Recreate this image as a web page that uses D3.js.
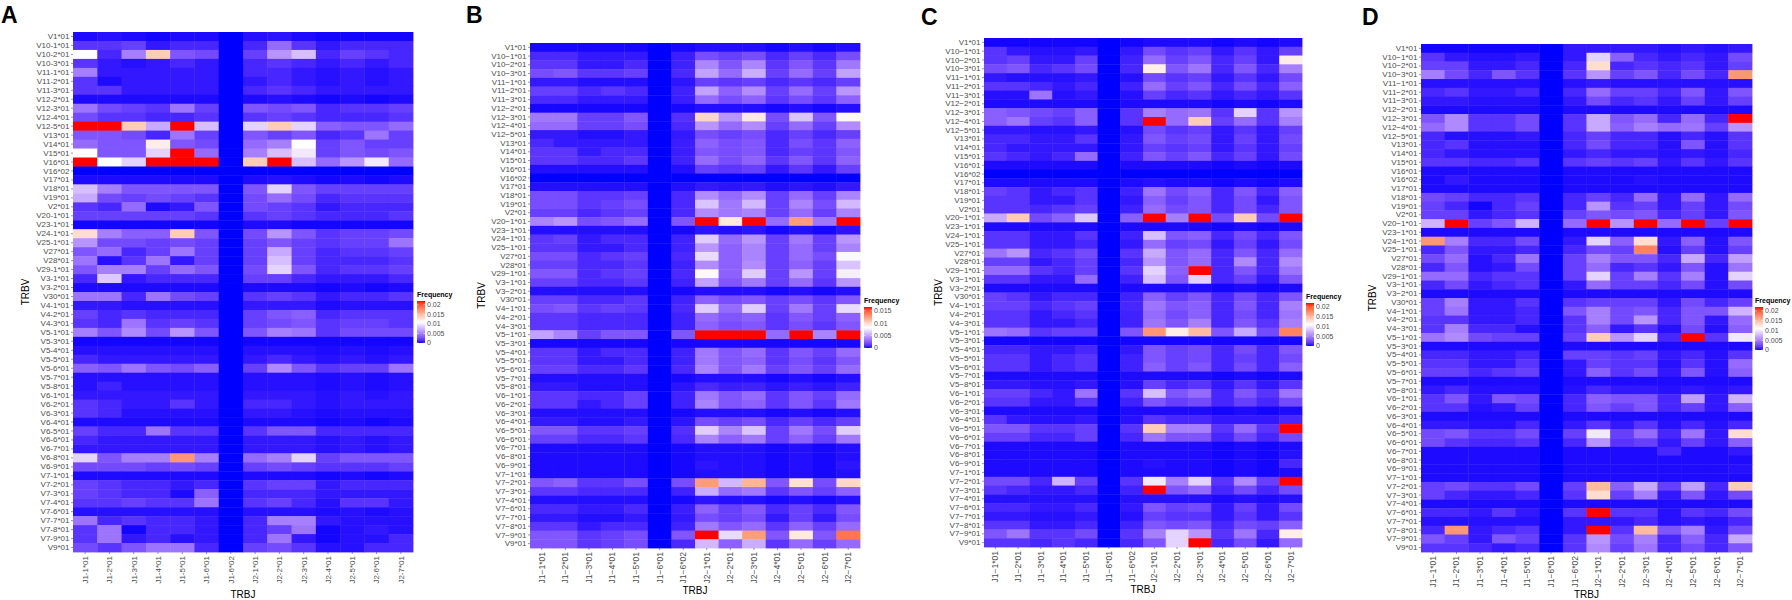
<!DOCTYPE html>
<html>
<head>
<meta charset="utf-8">
<script src="https://d3js.org/d3.v7.min.js"></script>
<style>
  body { margin: 0; background: #fff; }
  svg text { font-family: "Liberation Sans", Arial, sans-serif; }
</style>
</head>
<body>
<svg id="chart" width="1792" height="600"></svg>
<script>
// TRBV genes (rows) and TRBJ genes (columns), same in all four panels
const trbv = ['V1*01','V10-1*01','V10-2*01','V10-3*01','V11-1*01','V11-2*01','V11-3*01','V12-2*01',
  'V12-3*01','V12-4*01','V12-5*01','V13*01','V14*01','V15*01','V16*01','V16*02','V17*01','V18*01',
  'V19*01','V2*01','V20-1*01','V23-1*01','V24-1*01','V25-1*01','V27*01','V28*01','V29-1*01','V3-1*01',
  'V3-2*01','V30*01','V4-1*01','V4-2*01','V4-3*01','V5-1*01','V5-3*01','V5-4*01','V5-5*01','V5-6*01',
  'V5-7*01','V5-8*01','V6-1*01','V6-2*01','V6-3*01','V6-4*01','V6-5*01','V6-6*01','V6-7*01','V6-8*01',
  'V6-9*01','V7-1*01','V7-2*01','V7-3*01','V7-4*01','V7-6*01','V7-7*01','V7-8*01','V7-9*01','V9*01'];
const trbj = ['J1-1*01','J1-2*01','J1-3*01','J1-4*01','J1-5*01','J1-6*01','J1-6*02',
  'J2-1*01','J2-2*01','J2-3*01','J2-4*01','J2-5*01','J2-6*01','J2-7*01'];

// frequencies in per mille (1 = 0.001), one row per TRBV, columns in trbj order
const freqA = [
[0.2,0.3,0.2,0.1,0.2,0.2,0,0.3,0.4,0.2,0.1,0.1,0.1,0.1],
[1.5,1.5,2,0.5,1,1,0,1,4,1.5,0.5,1,1,1],
[11,1,5,14,3,2.5,0,2,6,8,1,2,1.5,1],
[1.5,0.5,0.3,0.5,1,0.5,0,1,1.5,1,0.5,1,0.5,1],
[5,0.5,0.5,0.5,0.5,0.5,0,1,1,0.5,0.3,0.5,0.3,0.5],
[1.5,0.2,0.5,0.5,0.5,0.5,0,0.5,1,0.5,0.3,0.5,0.3,0.5],
[1.5,1.5,0.5,0.5,0.5,0.5,0,1,1.5,1,0.5,0.5,0.5,0.5],
[0.2,0.2,0.2,0.2,0.2,0.2,0,0.2,0.3,0.2,0.1,0.2,0.1,0.2],
[4.5,2.5,2,1.5,4.5,2,0,3,2.5,3,1,1.5,1.5,2],
[2.5,1.5,1.5,1,1,1.5,0,1.5,2,1.5,1,1,1,1.5],
[22,22,14,7,22,8,0,9,14,9,3.5,3,3,4],
[3,3,2.5,1,4.5,2,0,3,2,3,1,1.5,4.5,2],
[4,3,3,12,3,2.5,0,4,5,11,2,3,2,2],
[11,3,3,9,22,4,0,5,8,10,2,3,2.5,3],
[22,11,9,22,22,22,0,14,22,8,4,6,10,4],
[0,0,0,0,0,0,0,0,0,0,0,0,0,0],
[0.2,0.2,0.2,0.2,0.2,0.2,0,0.2,0.3,0.2,0.1,0.2,0.1,0.2],
[8,5,3,3,3,3,0,3,9,3,2,2,2,2],
[7,2.5,2,2.5,2,1.5,0,2.5,4,2.5,1,1.5,1.5,1.5],
[1.5,1,4,0.2,0.5,3,0,2.5,2,1.5,0.5,1,1,1],
[2,2,2,2,2,1.5,0,1.5,2,1.5,1,1,1,1.5],
[0.1,0.1,0.1,0.1,0.1,0.1,0,0.2,0.2,0.1,0.1,0.1,0.1,0.1],
[13,5,3.5,3.5,14,3,0,2.5,6,3,1.5,2,2,2.5],
[6,2.5,2.5,2,2.5,2,0,2,3,2,1.5,2,2,4.5],
[3,4,1,2,4.5,2,0,2,7,2,1,1.5,1.5,2],
[4.5,0.3,1.5,4.5,0.5,2,0,2,8,2,1,1,1,1.5],
[3,5,5,2,4,3,0,2.5,9,3,1,1.5,1.5,2],
[1,8.5,0.5,1,1,1,0,2,2,1,0.5,0.5,0.5,1],
[0.2,0.2,0.2,0.2,0.2,0.2,0,0.2,0.2,0.2,0.1,0.2,0.1,0.2],
[4.5,4.5,1,4.5,2.5,2,0,1.5,2,1.5,0.5,1,1,1.5],
[0.5,0.5,0.3,0.3,0.3,0.3,0,0.5,0.5,0.5,0.2,0.3,0.3,0.3],
[2,1,1.5,1,1,1,0,2,3,3.5,1,1.5,1.5,1.5],
[1.5,1,4.5,1.5,2,1.5,0,2,2.5,3,1.5,2,2,1.5],
[5,3,5.5,2.5,6,3,0,3,5,4.5,1.5,2.5,2.5,2.5],
[0.1,0.1,0.1,0.1,0.1,0.1,0,0.1,0.1,0.1,0.1,0.1,0.1,0.1],
[0.3,0.3,0.3,0.3,0.3,0.3,0,0.3,0.3,0.3,0.2,0.3,0.2,0.3],
[1,0.5,0.5,0.5,0.5,0.5,0,0.5,1,0.5,0.3,0.5,0.3,0.5],
[3.5,3,4.5,3,2.5,3.5,0,2,5.5,3,1.5,2,2,4.5],
[0.3,0.3,0.3,0.3,0.3,0.3,0,0.3,0.3,0.3,0.2,0.3,0.2,0.3],
[0.3,0.8,0.3,0.3,0.3,0.3,0,0.3,0.3,0.3,0.2,0.3,0.2,0.3],
[0.5,0.5,0.5,0.5,0.5,0.5,0,0.5,0.5,0.5,0.3,0.5,0.3,0.5],
[1.5,1,0.5,0.5,1.5,0.5,0,1,1,0.5,0.3,0.5,0.5,0.5],
[1.5,1,0.3,0.3,0.3,0.3,0,0.5,0.5,0.3,0.2,0.3,0.3,0.3],
[0.2,0.2,0.2,0.2,0.2,0.2,0,0.2,0.2,0.2,0.1,0.2,0.1,0.2],
[2,1,1,4.5,1.5,1.5,0,1.5,3,3,1,1,1,1],
[1,0.5,0.5,0.5,0.5,0.5,0,0.5,0.5,0.5,0.3,0.5,0.3,0.5],
[0.5,0.5,0.5,0.5,0.5,0.5,0,0.5,0.5,0.5,0.3,0.5,0.3,0.5],
[9,3,5,5,17,5,0,4,5,9,2,3,3,3],
[2.5,2.5,2.5,2,2.5,2,0,2,2.5,2,1.5,1.5,1.5,2],
[0.2,0.2,0.2,0.2,0.2,0.2,0,0.2,0.2,0.2,0.1,0.2,0.1,0.2],
[2,1.5,1,1,0.5,1,0,1.5,2,2,0.5,1,1,1],
[2,1.5,1,1,0.2,3.5,0,1,1,1,0.5,0.5,0.5,0.5],
[1.5,1.5,2,1.5,1.5,4.5,0,1.5,2,1,0.3,1.5,1.5,0.5],
[0.3,0.3,0.3,0.3,0.3,0.3,0,0.3,0.3,0.3,0.2,0.3,0.2,0.3],
[4.5,1,1.5,1,1,0.5,0,1,5,5,0.5,0.3,0.3,0.3],
[1.5,4.5,0.1,1,1,0.5,0,1,2,4.5,0.1,0.3,0.5,0.3],
[1.5,4.5,0.5,1,0.3,0.5,0,1,4.5,0.5,0.1,0.3,0.3,1],
[2.5,1.5,3,4.5,4.5,1,0,2,2.5,1.5,0.3,0.3,1,1]
];

const freqB = [
[0.1,0.1,0.1,0.1,0.1,0,0.1,0.2,0.2,0.2,0.1,0.2,0.1,0.2],
[0.8,0.8,0.4,0.4,0.4,0,0.5,2,1.5,2,0.8,1.5,0.8,2],
[1.2,1.2,0.4,0.4,0.8,0,0.6,4,2.3,4,1.2,2.3,1.2,3.5],
[2,2.3,1.2,1.2,1.5,0,0.8,5,3,5.4,1.5,3,1.5,5],
[0.4,0.4,0.2,0.2,0.2,0,0.3,1.5,1.2,1.5,0.8,1.2,0.8,1.5],
[1.5,1.5,0.8,1.2,0.8,0,0.6,5,2.7,4.2,1.5,3,1.5,4.6],
[0.8,0.8,0.4,0.4,0.4,0,0.5,3,2,2.7,1.2,2,1.2,2.7],
[0.1,0.1,0.1,0.1,0.1,0,0.1,0.2,0.2,0.2,0.1,0.2,0.1,0.2],
[3.5,3.5,1.5,1.5,2.3,0,1,10,4.6,9.2,2,6.2,2.3,8.5],
[3,3,1.5,1.5,2,0,0.8,4.6,3,4.2,1.5,3,1.5,4.2],
[0.4,0.4,0.2,0.2,0.4,0,0.4,2,1.5,2,0.8,1.5,0.8,1.5],
[0.8,0.4,0.4,0.4,0.4,0,0.5,2.7,2,2.3,0.8,2,1.2,2.7],
[1.2,1.2,0.4,0.8,0.8,0,0.5,2.3,2,2.3,0.8,1.5,1.2,2.3],
[1.2,1.2,0.8,0.8,1.2,0,0.6,3,2,2.7,1.2,2.3,1.2,2.7],
[0.2,0.2,0.2,0.2,0.2,0,0.2,1.5,1.2,1.5,0.4,1.2,0.4,1.5],
[0,0,0,0,0,0,0,0,0,0,0,0,0,0],
[0.2,0.2,0.2,0.2,0.2,0,0.2,0.4,0.3,0.4,0.2,0.3,0.2,0.4],
[2,2,1.2,1.2,1.5,0,0.8,4.2,3,4.2,1.5,3,1.5,3.9],
[2,2,1.2,1.5,2,0,0.8,6.2,3.5,5.8,1.5,3.9,2,5.8],
[1.5,1.5,0.8,1.2,1.5,0,0.8,4.2,3.5,3.9,1.5,3,1.5,3.9],
[3.9,4.6,2,2.3,3,0,2.3,16.5,9.2,16.5,3,12.5,3.5,16.5],
[0.2,0.2,0.2,0.2,0.2,0,0.1,0.3,0.2,0.3,0.1,0.2,0.1,0.3],
[1.2,1.5,0.4,0.8,0.8,0,0.6,6.5,3,4.6,1.5,3.5,1.5,4.6],
[1.2,1.2,0.4,0.4,0.8,0,0.6,4.6,2.7,3.9,1.5,3,1.5,3.9],
[2,2,0.8,1.2,1.5,0,0.8,7,2.7,3.9,1.5,3,2,8],
[1.5,1.5,0.8,0.8,1.2,0,0.6,4.2,2.7,4.2,1.5,2.7,1.5,6.2],
[2.3,2.3,0.8,1.2,1.5,0,0.8,8.5,2.7,6.5,1.5,4.6,1.5,7.7],
[1.5,1.5,0.8,0.8,1.2,0,0.6,5,2.3,3.5,1.5,3,1.2,4.6],
[0.2,0.2,0.2,0.2,0.2,0,0.1,0.2,0.2,0.2,0.1,0.2,0.1,0.2],
[1.5,1.5,0.8,0.8,1.2,0,0.6,2.7,2,2.3,1.5,2,1.2,2.3],
[2,2.3,1.2,1.5,1.2,0,0.8,6.5,3,6.5,1.5,3.5,1.5,7],
[1.2,1.2,0.8,0.8,0.8,0,0.6,3,2.3,2.7,1.2,2.3,1.5,2.7],
[1.2,1.2,0.8,0.8,0.8,0,0.6,2.7,2,2.3,1.2,2,1.2,2.3],
[5,3.9,1.5,2.3,2.3,0,2.3,16.5,16.5,16.5,3,16.5,3.9,16.5],
[0.1,0.1,0.1,0.1,0.1,0,0.1,0.1,0.1,0.1,0.1,0.1,0.1,0.1],
[1.2,1.2,0.4,0.8,0.8,0,0.6,3.5,2.3,3,1.2,2.3,1.5,3],
[1.2,1.2,0.4,0.4,0.8,0,0.6,3.5,2.3,2.7,1.2,2,1.2,2.3],
[1.5,1.5,0.8,0.8,1.2,0,0.8,3.9,2.3,3.5,1.5,2.3,1.5,3],
[0.2,0.2,0.2,0.2,0.2,0,0.1,0.2,0.2,0.2,0.1,0.2,0.1,0.2],
[0.4,0.4,0.2,0.2,0.2,0,0.3,0.8,0.5,0.6,0.3,0.5,0.3,0.6],
[1.2,1.2,0.8,0.8,1.5,0,0.6,3.5,2.3,3,1.2,2.3,1.5,3],
[1.2,1.2,0.4,0.8,1.5,0,0.6,3.9,2.3,2.7,1.2,2.3,1.2,3.5],
[0.2,0.2,0.2,0.2,0.2,0,0.1,0.2,0.2,0.2,0.1,0.2,0.1,0.2],
[0.4,0.4,0.2,0.2,0.4,0,0.3,2,1.5,2,0.8,1.5,0.8,1.5],
[2.3,2.3,1.2,1.2,1.5,0,1,6.5,3.9,6.2,1.5,3.5,2,6.5],
[1.5,1.5,0.8,0.8,1.2,0,0.8,3.9,2.7,3.5,1.5,2.7,1.5,3.5],
[0.15,0.15,0.15,0.15,0.15,0,0.1,0.2,0.2,0.2,0.1,0.2,0.1,0.2],
[0.15,0.15,0.15,0.15,0.15,0,0.1,0.2,0.2,0.2,0.1,0.2,0.1,0.2],
[0.15,0.15,0.15,0.15,0.15,0,0.1,0.3,0.2,0.2,0.1,0.2,0.1,0.3],
[0.15,0.15,0.15,0.15,0.15,0,0.1,0.2,0.2,0.2,0.1,0.2,0.1,0.2],
[2.3,2.7,1.2,1.2,2,0,2,12.5,5.8,11.5,2.3,9.6,2,10],
[1.2,1.2,0.8,0.8,0.8,0,0.6,5.4,3,3.5,1.2,2.3,1.5,2.7],
[0.2,0.2,0.2,0.2,0.2,0,0.1,0.3,0.2,0.2,0.1,0.2,0.1,0.2],
[0.8,0.8,0.4,0.4,0.8,0,0.5,2.7,1.5,2.3,0.8,1.5,0.8,2.3],
[0.4,0.4,0.2,0.2,0.4,0,0.4,2,1.5,2,0.4,1.5,0.4,2],
[1.2,1.2,0.4,0.8,0.8,0,0.6,3.5,2.3,3,1.2,2.7,1.5,3],
[2.3,2.3,1.2,1.5,2,0,2.3,16.5,7,12.5,2.3,9.2,2.3,14],
[2.3,2.3,1.2,1.5,2,0,0.8,5.8,2.7,5.4,1.2,3,1.5,3]
];

const freqC = [
[0.1,0.1,0.1,0.1,0.1,0,0.1,0.2,0.2,0.2,0.1,0.2,0.1,0.2],
[1.5,0.5,0.3,0.3,0.5,0,0.5,2.5,1.5,2,0.5,1.5,0.5,2],
[1.5,2,0.5,0.5,2,0,0.8,4,2,3,1,2,0.5,12],
[2.5,3,1,1.5,2.5,0,1,12,3,4.5,1,3,1,5],
[0.5,0.3,0.3,0.3,0.5,0,0.3,2.5,1.5,2,0.5,1.5,0.5,2.5],
[1.5,1.5,1,0.5,1,0,0.8,4,2,3,1,2.5,1,3.5],
[0.3,0.3,4.5,0.3,0.5,0,0.3,2,1,1.5,0.5,1,0.5,1.5],
[0.2,0.2,0.2,0.2,0.2,0,0.2,0.2,0.2,0.2,0.1,0.2,0.1,0.2],
[3.5,3,2.5,2,3.5,0,1.5,5,4,4.5,1.5,9,1.5,6],
[3.5,4.5,2,1.5,3.5,0,1.5,22,4,14,2,4,1.5,5],
[0.5,0.5,0.3,0.3,0.5,0,0.3,2.5,1.5,2,0.5,1.5,0.5,2],
[1,1,0.5,0.5,1.5,0,0.5,3,2,2.5,0.5,2,0.5,2.5],
[1,0.5,0.5,0.5,0.5,0,0.5,2,1.5,2,0.5,1.5,0.5,2],
[1.5,1,0.5,1,4,0,0.8,3,2,3,1,2,0.5,2.5],
[0.2,0.2,0.2,0.2,0.2,0,0.2,0.2,0.2,0.2,0.1,0.2,0.1,0.2],
[0,0,0,0,0,0,0,0,0,0,0,0,0,0],
[0.2,0.2,0.2,0.2,0.2,0,0.2,0.3,0.2,0.2,0.1,0.2,0.1,0.2],
[2,1.5,0.5,1,1.5,0,0.8,4.5,2.5,3.5,1,3,1,3.5],
[1.5,1.5,0.5,0.5,1.5,0,0.5,3.5,2,3,1,2.5,0.5,3],
[1.5,1.5,1,1.5,2,0,0.8,4,2.5,3,1,2.5,1,3],
[7,14,2.5,3.5,8.5,0,3.5,22,5,22,2.5,14,2.5,22],
[0.2,0.2,0.2,0.2,0.2,0,0.2,0.2,0.2,0.2,0.1,0.2,0.1,0.2],
[1.5,1.5,0.5,0.5,1.5,0,0.8,8,3,3.5,1,2.5,1,3],
[1.5,1.5,0.5,0.5,1,0,0.5,4,2,2.5,0.5,2,0.5,2.5],
[4.5,6,1,1.5,2.5,0,1.5,7,3,4,1,3,1,4],
[2,2,0.5,1,2,0,1,6,3,4,1,5.5,1,5.5],
[4,4,1.5,1,2,0,1.5,9,3.5,22,1,3,1,4.5],
[1.5,1.5,0.5,0.5,4,0,0.8,8,3,9,1,2,0.5,3],
[0.2,0.2,0.2,0.2,0.2,0,0.2,0.2,0.2,0.2,0.1,0.2,0.1,0.2],
[2,1.5,0.5,1,1,0,0.8,3.5,2,3,1,2.5,1,3],
[2,2,1,1.5,2,0,1,4.5,3,3.5,1,3,1,5],
[1.5,1.5,0.5,1,1.5,0,0.8,4,2.5,3.5,1,2.5,1,4.5],
[1.5,1.5,0.5,0.5,1,0,0.8,4.5,3,5,1,3,1.5,5],
[4.5,4,1.5,2,2,0,3,17,12,15,3,7,2.5,18],
[0.1,0.1,0.1,0.1,0.1,0,0.1,0.1,0.1,0.1,0.1,0.1,0.1,0.1],
[1,1,0.5,0.5,1,0,0.5,3,2,2.5,1,2.5,1,3],
[1.5,1.5,0.5,1,1.5,0,0.8,3,2,2.5,1,2,1,2.5],
[1.5,1.5,0.5,1,1.5,0,0.8,3.5,2,3,1,2.5,1,3.5],
[0.2,0.2,0.2,0.2,0.2,0,0.2,0.2,0.2,0.2,0.1,0.2,0.1,0.2],
[0.5,0.5,0.3,0.3,0.5,0,0.3,2,1,1.5,0.5,1.5,0.5,1.5],
[2,2,1,0.5,4.5,0,1.5,8,3,4,1,3,1.5,4.5],
[1.5,1.5,0.5,0.5,1.5,0,0.8,3,2,2.5,1,2,1,2.5],
[0.2,0.2,0.2,0.2,0.2,0,0.2,0.2,0.2,0.2,0.1,0.2,0.1,0.2],
[1.5,0.5,0.3,0.3,0.5,0,0.3,1.5,1,1,0.5,0.5,0.5,1],
[3,3,1.5,1.5,2,0,1.5,14,5,5,1.5,4,1.5,22],
[2,2,1,1,2,0,1,4.5,3,3,1,2.5,1,2.5],
[0.2,0.2,0.2,0.2,0.2,0,0.2,0.2,0.2,0.2,0.1,0.2,0.1,0.2],
[0.2,0.2,0.2,0.2,0.2,0,0.2,0.2,0.2,0.2,0.1,0.2,0.1,0.3],
[0.2,0.2,0.2,0.2,0.2,0,0.2,0.3,0.2,0.2,0.1,0.2,0.1,1],
[0.2,0.2,0.2,0.2,0.2,0,0.2,0.2,0.2,0.2,0.1,0.2,0.1,0.2],
[2.5,2.5,1,7.5,2,0,1.5,10,5,9,1.5,5.5,2,22],
[1.5,1,0.5,0.5,1,0,0.8,22,3,4,1,2.5,1,2.5],
[0.3,0.3,0.3,0.3,0.3,0,0.3,0.3,0.3,0.3,0.2,0.3,0.2,0.3],
[1,1,0.5,0.5,1,0,0.5,3,2,2.5,0.5,2,0.5,2.5],
[0.5,0.5,0.3,0.3,0.5,0,0.3,2,1.5,1.5,0.5,1.5,0.5,1.5],
[1.5,1.5,0.5,0.5,1,0,0.8,3,2.5,3,1,2.5,2,3.5],
[3,4.5,1.5,1.5,2.5,0,1.5,5,9,6,1.5,4.5,1,12],
[1.5,1.5,1,1.5,1,0,1,3,9,22,1,2.5,0.5,4]
];

const freqD = [
[0.1,0.1,0.1,0.1,0.1,0,0.5,0.5,0.5,0.5,0.3,0.5,0.3,0.5],
[1.5,0.5,0.3,0.3,0.5,0,0.5,9,3.5,1,0.5,1,0.5,2.5],
[2,2,0.5,0.5,1,0,1,13,1,1.5,1,1.5,0.5,2],
[5,2.5,1,3,1.5,0,1.5,6,2,3,1,2.5,1,17],
[0.3,0.3,0.3,0.3,0.3,0,0.3,0.5,0.3,0.3,0.3,0.3,0.3,0.3],
[1,1.5,0.5,0.5,1,0,1,4,2,2,1,3,0.5,3],
[0.5,0.5,0.3,0.3,0.3,0,0.5,2.5,1,1.5,0.5,2,0.5,2],
[0.2,0.2,0.2,0.2,0.2,0,0.2,0.2,0.2,0.2,0.2,0.2,0.2,0.2],
[3,5.5,1.5,1.5,2.5,0,1.5,7,3,4,1,4,1,22],
[4,5.5,1.5,1.5,2.5,0,1.5,7,3.5,5,4,4.5,2,6],
[1,0.3,0.3,0.3,0.5,0,1,2,1,1,0.3,1,0.3,1.5],
[1,1.5,0.3,0.3,0.3,0,1,2.5,1,1,0.3,3,0.3,1.5],
[1,0.5,0.3,0.3,0.3,0,0.5,1,0.5,0.5,0.3,0.5,0.3,1],
[1.5,1.5,1,1,1.5,0,1.5,2,1.5,2,0.5,1.5,0.5,1.5],
[0.2,0.2,0.2,0.2,0.2,0,0.2,0.2,0.2,0.2,0.2,0.2,0.2,0.2],
[0.2,0.5,0.2,0.2,0.2,0,0.2,0.2,0.2,0.3,0.2,0.2,0.2,0.2],
[0.2,0.2,0.2,0.2,0.2,0,0.2,0.2,0.2,0.2,0.2,0.2,0.2,0.2],
[2.5,2,1,1,1.5,0,1,2,1,4,0.5,4,0.5,4],
[2,1,0.1,1,2,0,1,6,1.5,2,0.5,2,0.5,2.5],
[2,2,0.5,1,1.5,0,2,3,2.5,3,1,2,0.5,3],
[7.5,22,2,3,7.5,0,4,22,6,22,4,22,2,22],
[0.2,0.2,0.2,0.2,0.2,0,0.2,0.2,0.2,0.2,0.2,0.2,0.2,0.2],
[17,5,1,1,2.5,0,0.5,9,3.5,13,0.5,3.5,0.3,3],
[1,3,0.5,0.5,1,0,1,2.5,2,18,0.3,2,0.3,2],
[2.5,4,0.3,1,4.5,0,2,5,3,3,1,7,1,6.5],
[1,3,0.3,0.5,2.5,0,2,4,1,1.5,0.5,3,0.3,4.5],
[4,4,1,1.5,1.5,0,2,9,2,5,1.5,5,0.3,9],
[1,2.5,0.5,1,1.5,0,0.5,4,2,2,1,2.5,0.3,2.5],
[0.2,0.2,0.2,0.2,0.2,0,0.2,0.2,0.2,0.2,0.2,0.2,0.2,0.2],
[2,5,0.5,0.5,1.5,0,1.5,2,2,2,0.5,2.5,1,2],
[2,4.5,0.5,0.5,1,0,3,5,2.5,3,1,3,3,7.5],
[1.5,1.5,0.5,0.5,1,0,1.5,5,2.5,6,1,3,0.5,4],
[1.5,5,1,1,0.3,0,1.5,3.5,0.5,1.5,0.3,2.5,0.3,3.5],
[4.5,5.5,2.5,2,2,0,2,14,6,9,1,22,1.5,10],
[0.2,0.2,0.2,0.2,0.2,0,0.2,0.2,0.2,0.2,0.2,0.2,0.2,0.2],
[1,1,0.5,0.5,1,0,2,2,1.5,2,0.5,1,0.3,1.5],
[1.5,1.5,0.5,0.5,1.5,0,0.5,2,1.5,1.5,0.3,1.5,0.3,4],
[2,2,1,1.5,2,0,0.5,3.5,1.5,2.5,0.5,3,0.3,3.5],
[0.2,0.2,0.2,0.2,0.2,0,0.2,0.2,0.2,0.2,0.2,0.2,0.2,0.2],
[0.5,1,0.3,0.3,0.3,0,0.3,1,0.5,0.5,0.3,0.5,0.3,0.5],
[1.5,3,0.5,3,2.5,0,1,3.5,3,3,1,6.5,0.5,7.5],
[1.5,1.5,0.3,0.5,2,0,1,3,2,3,1,2,0.5,3.5],
[0.2,0.2,0.2,0.2,0.2,0,0.2,0.2,0.2,0.2,0.2,0.2,0.2,0.2],
[0.5,0.5,0.3,0.3,1,0,0.5,1.5,0.5,1.5,0.3,1,0.3,1],
[2.5,3,1.5,1.5,2.5,0,2,10,2,4,1,4.5,0.5,13],
[2.5,1.5,1,1,1.5,0,1,6,1.5,2,0.5,2,0.5,3.5],
[0.2,0.2,0.2,0.2,0.2,0,0.2,0.2,0.2,0.2,1,0.2,0.2,0.5],
[0.2,0.2,0.2,0.2,0.2,0,0.2,0.2,0.2,0.2,0.2,0.2,0.2,0.2],
[0.2,0.2,0.2,0.2,0.2,0,0.2,0.2,0.2,0.2,0.2,0.2,0.2,0.3],
[0.2,0.2,0.2,0.2,0.2,0,0.2,0.2,0.2,0.2,0.2,0.2,0.2,0.2],
[2,2.5,1.5,1.5,2.5,0,2,15,3.5,7,2,6.5,1,14],
[2,1,0.5,0.5,1,0,1.5,13,2,5,0.5,3,0.5,2.5],
[0.2,0.2,0.2,0.2,0.2,0,0.2,0.2,0.2,0.2,0.2,0.2,0.2,0.2],
[1,1,0.5,1.5,0.5,0,1.5,22,1.5,1.5,0.3,1.5,1,2.5],
[0.3,0.3,0.3,0.3,0.3,0,0.5,0.5,0.5,1,0.3,0.5,0.3,1],
[1,17,0.5,1,1.5,0,0.5,22,1.5,15,3,5,0.5,2.5],
[3,2,0.5,3,2,0,1.5,6,2.5,5,1,3.5,1,7],
[1.5,1.5,1,0.5,1,0,1.5,5.5,2,4.5,1,2.5,1,3]
];

const legendTicksFull = [0, 0.005, 0.01, 0.015, 0.02];
const legendTicksB = [0, 0.005, 0.01, 0.015];

// layout of the four panels
const panels = [
  { tag: 'A', data: freqA, minus: false, left: 73,   right: 413,  top: 32, bottom: 552, xFont: 8,
    tagX: 1,    tagY: 23, vTitleX: 25,   legX: 417,  legTop: 301, legH: 42, ticks: legendTicksFull },
  { tag: 'B', data: freqB, minus: true,  left: 530,  right: 860,  top: 43, bottom: 548, xFont: 8.5,
    tagX: 466,  tagY: 23, vTitleX: 481,  legX: 864,  legTop: 307, legH: 41, ticks: legendTicksB },
  { tag: 'C', data: freqC, minus: true,  left: 984,  right: 1302, top: 38, bottom: 547, xFont: 8.5,
    tagX: 921,  tagY: 25, vTitleX: 938,  legX: 1306, legTop: 303, legH: 43, ticks: legendTicksFull },
  { tag: 'D', data: freqD, minus: true,  left: 1421, right: 1752, top: 44, bottom: 552, xFont: 8.5,
    tagX: 1362, tagY: 25, vTitleX: 1372, legX: 1755, legTop: 307, legH: 43, ticks: legendTicksFull }
];

const svg = d3.select('#chart');
const defs = svg.append('defs');
const fmtLegend = d3.format('~g');

panels.forEach((p, k) => {
  const fixDash = s => p.minus ? s.replace(/-/g, '\u2212') : s;

  const x = d3.scaleBand().domain(trbj).range([p.left, p.right]);
  const y = d3.scaleBand().domain(trbv).range([p.top, p.bottom]);

  const cells = [];
  p.data.forEach((row, i) => row.forEach((v, j) => cells.push({ v: trbv[i], j: trbj[j], f: v / 1000 })));
  const maxF = d3.max(cells, c => c.f);
  const color = d3.scaleLinear()
    .domain([0, maxF / 2, maxF])
    .range(['#0000ff', '#ffffff', '#ff0000'])
    .interpolate(d3.interpolateLab);

  const g = svg.append('g');

  g.append('g')
    .selectAll('rect')
    .data(cells)
    .enter()
    .append('rect')
      .attr('x', c => x(c.j))
      .attr('y', c => y(c.v))
      .attr('width', x.bandwidth() + 0.4)
      .attr('height', y.bandwidth() + 0.4)
      .attr('fill', c => color(c.f));

  // y axis (TRBV)
  const yAxis = g.append('g')
    .attr('transform', `translate(${p.left},0)`)
    .call(d3.axisLeft(y).tickSize(2).tickPadding(1.5).tickFormat(fixDash));
  yAxis.select('.domain').remove();
  yAxis.selectAll('line').attr('stroke', '#333').attr('stroke-width', 0.5);
  yAxis.selectAll('text')
    .attr('font-size', 8)
    .attr('font-family', '"Liberation Sans", Arial, sans-serif')
    .attr('fill', '#4d4d4d');

  // x axis (TRBJ), labels vertical
  const xAxis = g.append('g')
    .attr('transform', `translate(0,${p.bottom})`)
    .call(d3.axisBottom(x).tickSize(2).tickPadding(2).tickFormat(fixDash));
  xAxis.select('.domain').remove();
  xAxis.selectAll('line').attr('stroke', '#333').attr('stroke-width', 0.5);
  xAxis.selectAll('text')
    .attr('font-size', p.xFont)
    .attr('font-family', '"Liberation Sans", Arial, sans-serif')
    .attr('fill', '#4d4d4d')
    .attr('transform', 'rotate(-90)')
    .attr('x', -4)
    .attr('y', 0)
    .attr('dy', '0.35em')
    .style('text-anchor', 'end');

  // axis titles
  g.append('text')
    .attr('x', (p.left + p.right) / 2)
    .attr('y', Math.min(p.bottom + 46, 598))
    .attr('text-anchor', 'middle')
    .attr('font-size', 10)
    .text('TRBJ');
  g.append('text')
    .attr('transform', `translate(${p.vTitleX},${(p.top + p.bottom) / 2}) rotate(-90)`)
    .attr('dy', '0.35em')
    .attr('text-anchor', 'middle')
    .attr('font-size', 10)
    .text('TRBV');

  // panel tag
  g.append('text')
    .attr('x', p.tagX)
    .attr('y', p.tagY)
    .attr('font-size', 23)
    .attr('font-weight', 'bold')
    .text(p.tag);

  // colour bar legend
  const gradId = 'grad' + k;
  const grad = defs.append('linearGradient')
    .attr('id', gradId)
    .attr('x1', 0).attr('y1', 1).attr('x2', 0).attr('y2', 0);
  d3.range(0, 1.0001, 0.05).forEach(t => {
    grad.append('stop').attr('offset', t).attr('stop-color', color(t * maxF));
  });
  const barW = 8;
  const ly = d3.scaleLinear().domain([0, maxF]).range([p.legTop + p.legH, p.legTop]);
  const leg = g.append('g');
  leg.append('text')
    .attr('x', p.legX)
    .attr('y', p.legTop - 4)
    .attr('font-size', 7)
    .attr('font-weight', 'bold')
    .text('Frequency');
  leg.append('rect')
    .attr('x', p.legX)
    .attr('y', p.legTop)
    .attr('width', barW)
    .attr('height', p.legH)
    .attr('fill', `url(#${gradId})`);
  leg.selectAll('line.tl')
    .data(p.ticks)
    .enter()
    .append('line')
      .attr('x1', p.legX).attr('x2', p.legX + 1.6)
      .attr('y1', d => ly(d)).attr('y2', d => ly(d))
      .attr('stroke', '#fff').attr('stroke-width', 0.5);
  leg.selectAll('line.tr')
    .data(p.ticks)
    .enter()
    .append('line')
      .attr('x1', p.legX + barW - 1.6).attr('x2', p.legX + barW)
      .attr('y1', d => ly(d)).attr('y2', d => ly(d))
      .attr('stroke', '#fff').attr('stroke-width', 0.5);
  leg.selectAll('text.lab')
    .data(p.ticks)
    .enter()
    .append('text')
      .attr('x', p.legX + barW + 2)
      .attr('y', d => ly(d))
      .attr('dy', '0.35em')
      .attr('font-size', 7)
      .attr('fill', '#4d4d4d')
      .text(d => fmtLegend(d));
});
</script>
</body>
</html>
